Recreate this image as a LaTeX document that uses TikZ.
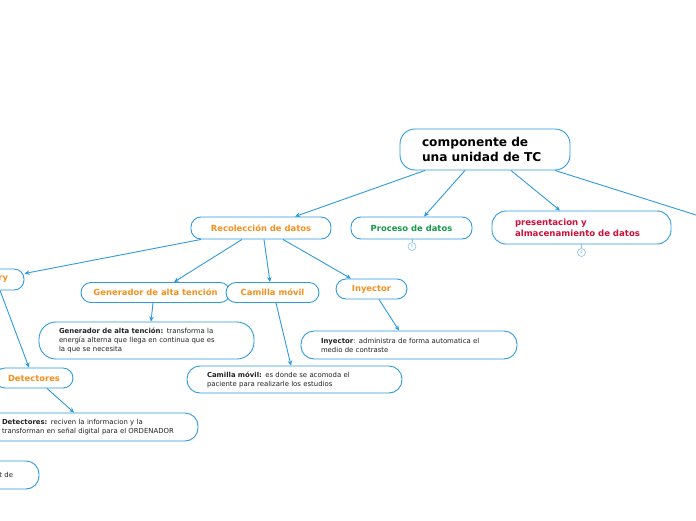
\documentclass[tikz,border=0pt]{standalone}
\usepackage{fontspec}
\setmainfont{DejaVu Sans}
\usetikzlibrary{arrows.meta}
\definecolor{lblue}{HTML}{2E9BE0}
\definecolor{torange}{HTML}{F5901E}
\definecolor{tgreen}{HTML}{159A48}
\definecolor{tred}{HTML}{D0103A}
\definecolor{ttext}{HTML}{222222}
\tikzset{
  box/.style={draw=lblue, line width=0.9pt, rounded corners=10pt, fill=white, inner sep=0pt},
  title/.style={box, font=\bfseries\fontsize{8.4}{10}\selectfont},
  desc/.style={box, align=left, font=\fontsize{6.9}{9}\selectfont, text=ttext},
  conn/.style={draw=lblue, line width=0.9pt, -{Stealth[length=5pt,width=4.5pt]}},
  badge/.style={circle, draw=lblue!60, line width=0.6pt, minimum size=8pt, inner sep=0pt, text=lblue!60, font=\fontsize{4}{4}\selectfont}
}
\begin{document}
\begin{tikzpicture}[x=1pt,y=-1pt]
\useasboundingbox (0,0) rectangle (696,520);
\clip (0,0) rectangle (696,520);
\fill[white] (0,0) rectangle (696,520);

% main
\node[box, rounded corners=15pt, minimum width=170pt, minimum height=41pt, align=left,
  text width=126pt, font=\bfseries\fontsize{12.2}{15}\selectfont, text=black] (main) at (485,149.5)
  {componente de\\una unidad de TC};

% level 1
\node[title, text=torange, minimum width=140pt, minimum height=22pt] (rec) at (261,228) {Recolección de datos};
\node[title, text=tgreen, minimum width=121pt, minimum height=22pt] (proc) at (411.5,228) {Proceso de datos};
\node[title, text=tred, minimum width=179pt, minimum height=33pt, rounded corners=14pt, align=left, text width=133pt,
  font=\bfseries\fontsize{8.6}{11}\selectfont] (pres) at (581.5,227.5) {presentacion y\\almacenamiento de datos};
\coordinate (offr) at (710,219.4);

% badges
\node[badge] (b5) at (412,246.5) {5};
\node[badge] (b4) at (581.5,252.5) {4};
\draw[draw=lblue!60, line width=0.6pt] (proc.south -| b5) -- (b5.north);
\draw[draw=lblue!60, line width=0.6pt] (pres.south -| b4) -- (b4.north);

% level 2
\node[title, text=torange, minimum width=64pt, minimum height=21pt, text width=32pt, align=right] (gan) at (-8,279.5) {ry};
\node[title, text=torange, minimum width=149pt, minimum height=20pt] (gen) at (155.5,292.5) {Generador de alta tención};
\node[title, text=torange, minimum width=93pt, minimum height=20pt] (cam) at (272.5,292.5) {Camilla móvil};
\node[title, text=torange, minimum width=71pt, minimum height=20pt] (iny) at (371.5,289) {Inyector};

% descriptions
\node[desc, minimum width=215pt, minimum height=37pt, rounded corners=17pt, text width=175pt] (gend) at (146.5,340.5)
  {\textbf{Generador de alta tención:} transforma la\\energía alterna que llega en continua que es\\la que se necesita};
\node[desc, minimum width=216pt, minimum height=28pt, rounded corners=13pt, text width=176pt] (inyd) at (409,345)
  {\textbf{Inyector}: administra de forma automatica el\\medio de contraste};
\node[desc, minimum width=215pt, minimum height=27pt, rounded corners=13pt, text width=175pt] (camd) at (294.5,379.5)
  {\textbf{Camilla móvil:} es donde se acomoda el\\paciente para realizarle los estudios};

\node[title, text=torange, minimum width=78pt, minimum height=20pt] (det) at (34,378) {Detectores};
\node[desc, minimum width=216pt, minimum height=28pt, rounded corners=13pt, text width=176pt] (detd) at (90,427)
  {\textbf{Detectores:} reciven la informacion y la\\\mbox{transforman en señal digital para el ORDENADOR}};
\node[desc, minimum width=216pt, minimum height=28pt, rounded corners=13pt, text width=190pt, align=right] (ord) at (-69,475)
  {t de\hspace*{13pt}};

% connectors
\draw[conn] ([xshift=-60pt]main.south) -- ([xshift=34pt]rec.north);
\draw[conn] ([xshift=-20pt]main.south) -- ([xshift=12.5pt]proc.north);
\draw[conn] ([xshift=26pt]main.south) -- ([xshift=-21.5pt]pres.north);
\draw[conn] ([xshift=70pt]main.south) -- (offr);

\draw[conn] ([xshift=-60pt]rec.south) -- ([yshift=6pt]gan.east);
\draw[conn] ([xshift=-19pt]rec.south) -- ([xshift=18.5pt]gen.north);
\draw[conn] ([xshift=3pt]rec.south) -- ([xshift=-2.5pt]cam.north);
\draw[conn] ([xshift=22pt]rec.south) -- ([xshift=-20.5pt]iny.north);

\draw[conn] ([xshift=-2.5pt]gen.south) -- ([xshift=4.5pt]gend.north);
\draw[conn] ([xshift=3.5pt]cam.south) -- ([xshift=-3.5pt]camd.north);
\draw[conn] ([xshift=7.5pt]iny.south) -- ([xshift=-10pt]inyd.north);
\draw[conn] ([xshift=8pt]gan.south) -- ([xshift=-5pt]det.north);
\draw[conn] ([xshift=13pt]det.south) -- ([xshift=-16pt]detd.north);
\end{tikzpicture}
\end{document}
